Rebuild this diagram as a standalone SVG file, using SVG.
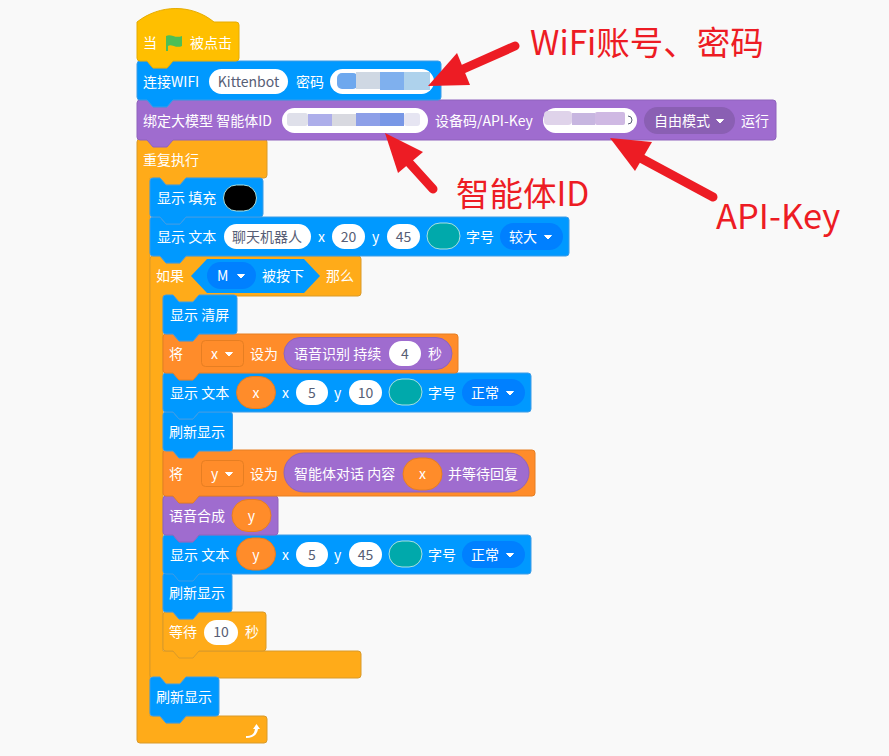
<svg xmlns="http://www.w3.org/2000/svg" width="889" height="756" viewBox="0 0 889 756">
<style>
text{font-family:"Noto Sans CJK SC","Noto Sans",sans-serif;font-size:14px;fill:#fff;dominant-baseline:central;transform:translateY(-1px)}
.bl{fill:#0099ff;stroke:#3d9ce6;stroke-width:1}
.pu{fill:#9f6ccf;stroke:#8f63bd;stroke-width:1}
.ye{fill:#ffab19;stroke:#d99a2b;stroke-width:1}
.or{fill:#ff8c2a;stroke:#e67e22;stroke-width:1}
.hat{fill:#ffbf00;stroke:#e6ac00;stroke-width:1}
.in{fill:#fff}
text.dk{fill:#575e75;text-anchor:middle}
.mid{text-anchor:middle}
.dd{fill:#0080ff}
.var{fill:#ff8c2a;stroke:#e67e22}
.teal{fill:#00a9ab;stroke:#a8e0e0;stroke-width:1}
text.ann{fill:#ed1c24;font-size:33.500px;transform:translateY(-1px)}
.arr{fill:#ed1c24}
.shaft{stroke:#ed1c24;stroke-width:9;stroke-linecap:round;fill:none}
.tri{fill:#fff;stroke:#fff;stroke-linejoin:round;stroke-width:1}
</style>
<defs><path id="caret" class="tri" d="M-3.500,-1.500H3.500L0,2Z"/></defs>
<rect width="889" height="756" fill="#f9f9f9"/>
<g id="loop"><path class="ye" d="M140,139H147l6,7h14l6,-7H264q3,0 3,3V175q0,3 -3,3H186l-6,7h-14l-6,-7H150V716H160l6,7h14l6,-7H264q3,0 3,3V740q0,3 -3,3H140q-3,0 -3,-3V142q0,-3 3,-3Z"/><text x="143" y="160">重复执行</text><path d="M246,736c5,0 8,-1 9,-7l-2,0 3.500,-5 3.500,5 -2,0c-1,6 -5,9 -12,9Z" fill="#fff"/></g>
<g id="if"><path class="ye" d="M153,256H160l6,7h14l6,-7H358q3,0 3,3V293q0,3 -3,3H199l-6,7h-14l-6,-7H163V651H358q3,0 3,3V675q0,3 -3,3H186l-6,7h-14l-6,-7H153q-3,0 -3,-3V259q0,-3 3,-3Z"/><text x="156" y="276">如果</text><path d="M191,276L207,259H304L320,276L304,293H207Z" fill="#0099ff"/><rect class="dd" x="207" y="262" width="49" height="27" rx="13.500"/><text x="217" y="276">M</text><use href="#caret" x="241" y="276"/><text x="262" y="276">被按下</text><text x="326" y="276">那么</text></g>
<g id="refresh-4"><path class="bl" d="M153,677H160l6,7h14l6,-7H216q3,0 3,3V713q0,3 -3,3H186l-6,7h-14l-6,-7H153q-3,0 -3,-3V680q0,-3 3,-3Z"/><text x="156" y="697">刷新显示</text></g>
<g id="wait"><path class="ye" d="M166,612H173l6,7h14l6,-7H263q3,0 3,3V648q0,3 -3,3H199l-6,7h-14l-6,-7H166q-3,0 -3,-3V615q0,-3 3,-3Z"/><text x="169" y="632">等待</text><rect class="in" x="204" y="620" width="34" height="25" rx="12.500"/><text class="dk" x="221" y="632">10</text><text x="245" y="632">秒</text></g>
<g id="refresh-3"><path class="bl" d="M166,573H173l6,7h14l6,-7H229q3,0 3,3V609q0,3 -3,3H199l-6,7h-14l-6,-7H166q-3,0 -3,-3V576q0,-3 3,-3Z"/><text x="169" y="593">刷新显示</text></g>
<g id="text-y"><path class="bl" d="M166,535H173l6,7h14l6,-7H528q3,0 3,3V571q0,3 -3,3H199l-6,7h-14l-6,-7H166q-3,0 -3,-3V538q0,-3 3,-3Z"/><text x="170" y="555">显示 文本</text><rect class="var" x="236.500" y="538" width="39" height="32" rx="16"/><text class="mid" x="256" y="555">y</text><text x="282" y="555">x</text><rect class="in" x="296" y="542" width="32" height="25" rx="12.500"/><text class="dk" x="312" y="555">5</text><text x="334" y="555">y</text><rect class="in" x="349" y="542" width="33" height="25" rx="12.500"/><text class="dk" x="365.500" y="555">45</text><rect class="teal" x="389" y="541" width="33" height="26" rx="13"/><text x="428" y="555">字号</text><rect class="dd" x="462" y="541" width="63" height="27" rx="13.500"/><text x="471" y="555">正常</text><use href="#caret" x="510" y="555"/></g>
<g id="speak"><path class="pu" d="M166,496H173l6,7h14l6,-7H275q3,0 3,3V532q0,3 -3,3H199l-6,7h-14l-6,-7H166q-3,0 -3,-3V499q0,-3 3,-3Z"/><text x="169" y="516">语音合成</text><rect class="var" x="232" y="499.500" width="39" height="32" rx="16"/><text class="mid" x="251.500" y="516">y</text></g>
<g id="set-y"><path class="or" d="M166,450H173l6,7h14l6,-7H532q3,0 3,3V493q0,3 -3,3H199l-6,7h-14l-6,-7H166q-3,0 -3,-3V453q0,-3 3,-3Z"/><text x="169" y="474">将</text><rect x="201.500" y="460.500" width="42" height="26" rx="4" fill="#ff8c2a" stroke="#e67e22"/><text x="211" y="474">y</text><use href="#caret" x="229" y="474"/><text x="250" y="474">设为</text><rect x="284" y="453" width="245" height="39" rx="19.500" fill="#9f6ccf" stroke="#8f63bd"/><text x="294" y="474">智能体对话 内容</text><rect class="var" x="403" y="458" width="39" height="32" rx="16"/><text class="mid" x="422.500" y="474">x</text><text x="448" y="474">并等待回复</text></g>
<g id="refresh-2"><path class="bl" d="M166,412H173l6,7h14l6,-7H229.500q3,0 3,3V448q0,3 -3,3H199l-6,7h-14l-6,-7H166q-3,0 -3,-3V415q0,-3 3,-3Z"/><text x="169" y="432">刷新显示</text></g>
<g id="text-x"><path class="bl" d="M166,373H173l6,7h14l6,-7H528q3,0 3,3V409q0,3 -3,3H199l-6,7h-14l-6,-7H166q-3,0 -3,-3V376q0,-3 3,-3Z"/><text x="170" y="393">显示 文本</text><rect class="var" x="236.500" y="376.500" width="39" height="32" rx="16"/><text class="mid" x="256" y="393">x</text><text x="282" y="393">x</text><rect class="in" x="296" y="380" width="32" height="25" rx="12.500"/><text class="dk" x="312" y="393">5</text><text x="334" y="393">y</text><rect class="in" x="349" y="380" width="33" height="25" rx="12.500"/><text class="dk" x="365.500" y="393">10</text><rect class="teal" x="389" y="379" width="33" height="26" rx="13"/><text x="428" y="393">字号</text><rect class="dd" x="462" y="379" width="63" height="27" rx="13.500"/><text x="471" y="393">正常</text><use href="#caret" x="510" y="393"/></g>
<g id="set-x"><path class="or" d="M166,334H173l6,7h14l6,-7H455q3,0 3,3V370q0,3 -3,3H199l-6,7h-14l-6,-7H166q-3,0 -3,-3V337q0,-3 3,-3Z"/><text x="169" y="354">将</text><rect x="201.500" y="340.500" width="42" height="26" rx="4" fill="#ff8c2a" stroke="#e67e22"/><text x="211" y="354">x</text><use href="#caret" x="229" y="354"/><text x="250" y="354">设为</text><rect x="284" y="337.500" width="168" height="32" rx="16" fill="#9f6ccf" stroke="#8f63bd"/><text x="294" y="354">语音识别 持续</text><rect class="in" x="389" y="341" width="32" height="25" rx="12.500"/><text class="dk" x="405" y="354">4</text><text x="428" y="354">秒</text></g>
<g id="clear"><path class="bl" d="M166,295H173l6,7h14l6,-7H234q3,0 3,3V331q0,3 -3,3H199l-6,7h-14l-6,-7H166q-3,0 -3,-3V298q0,-3 3,-3Z"/><text x="170" y="315">显示 清屏</text></g>
<g id="text-title"><path class="bl" d="M153,217H160l6,7h14l6,-7H566q3,0 3,3V253q0,3 -3,3H186l-6,7h-14l-6,-7H153q-3,0 -3,-3V220q0,-3 3,-3Z"/><text x="157" y="237">显示 文本</text><rect class="in" x="224" y="224" width="87" height="25" rx="12.500"/><text class="dk" x="267" y="237">聊天机器人</text><text x="318" y="237">x</text><rect class="in" x="332" y="224" width="33" height="25" rx="12.500"/><text class="dk" x="348.500" y="237">20</text><text x="372" y="237">y</text><rect class="in" x="387" y="224" width="33" height="25" rx="12.500"/><text class="dk" x="403.500" y="237">45</text><rect class="teal" x="427" y="223" width="33" height="26" rx="13"/><text x="466" y="237">字号</text><rect class="dd" x="500" y="223" width="63" height="27" rx="13.500"/><text x="509" y="237">较大</text><use href="#caret" x="548" y="237"/></g>
<g id="fill"><path class="bl" d="M153,178H160l6,7h14l6,-7H260q3,0 3,3V214q0,3 -3,3H186l-6,7h-14l-6,-7H153q-3,0 -3,-3V181q0,-3 3,-3Z"/><text x="157" y="198">显示 填充</text><rect x="223.500" y="185" width="33" height="26" rx="13" fill="#000" stroke="#a8e0e0"/></g>
<g id="bind"><path class="pu" d="M140,100H147l6,7h14l6,-7H773q3,0 3,3V137q0,3 -3,3H173l-6,7h-14l-6,-7H140q-3,0 -3,-3V103q0,-3 3,-3Z"/><text x="143" y="121">绑定大模型 智能体ID</text><rect class="in" x="282" y="108" width="146" height="25" rx="12.500"/><rect x="287" y="113" width="21" height="13" rx="3" fill="#dfe0ea"/><rect x="308" y="114" width="24" height="12" fill="#adaeea"/><rect x="332" y="114" width="24" height="12" fill="#d8d9e0"/><rect x="356" y="113" width="24" height="13" fill="#8d9fe8"/><rect x="380" y="113" width="24" height="13" fill="#7897e6"/><rect x="404" y="113" width="16" height="13" rx="3" fill="#e6e5f2"/><text x="435" y="121">设备码/API-Key</text><rect class="in" x="543" y="108" width="94" height="25" rx="12.500"/><path d="M628,116a4,4 0 0 1 0,8" fill="none" stroke="#575e75"/><rect x="544" y="111" width="28" height="14" rx="4" fill="#dfd3ea"/><rect x="572" y="113" width="23" height="12" fill="#c7b6e0"/><rect x="595" y="112" width="30" height="13" rx="2" fill="#cfb9e3"/><rect x="644" y="107" width="91" height="27" rx="13.500" fill="#8a5fb3"/><text x="654" y="121">自由模式</text><use href="#caret" x="720" y="121"/><text x="741" y="121">运行</text></g>
<g id="wifi"><path class="bl" d="M140,61H147l6,7h14l6,-7H438q3,0 3,3V97q0,3 -3,3H173l-6,7h-14l-6,-7H140q-3,0 -3,-3V64q0,-3 3,-3Z"/><text x="143" y="82">连接WIFI</text><rect class="in" x="209" y="69" width="79" height="25" rx="12.500"/><text class="dk" x="248.500" y="82">Kittenbot</text><text x="296" y="82">密码</text><rect class="in" x="330" y="69" width="104" height="25" rx="12.500"/><rect x="337" y="73" width="21" height="16" rx="5" fill="#6ea8ee"/><rect x="356" y="72" width="24" height="17" fill="#cfd8e3"/><rect x="380" y="72" width="24" height="18" fill="#7fb0ee"/><rect x="404" y="72" width="26" height="18" fill="#aed2ec"/></g>
<g id="start"><path class="hat" d="M137,22C160,4 192,4 214,22H236q3,0 3,3V58q0,3 -3,3H173l-6,7h-14l-6,-7H140q-3,0 -3,-3Z"/><text x="143" y="43">当</text><path d="M166,36c5,-3 9,3 16,0V46c-6,3 -11,-3 -14,0V51H166Z" fill="#4cbf56"/><text x="190" y="43">被点击</text></g>
<g id="connectors">
<path class="shaft" d="M515,46L452,74"/><path class="arr" d="M428,86L457,53L470,85Z"/>
<path class="shaft" d="M433,189L404,157"/><path class="arr" d="M385,133L423,152L398,173Z"/>
<path class="shaft" d="M713,197L635,155"/><path class="arr" d="M610,138L652,142L635,171Z"/>
</g>
<g id="annotations"><text class="ann" x="530" y="41">WiFi账号、密码</text><text class="ann" x="456" y="192">智能体ID</text><text class="ann" x="716" y="215" style="font-size:34.500px">API-Key</text></g>
</svg>
